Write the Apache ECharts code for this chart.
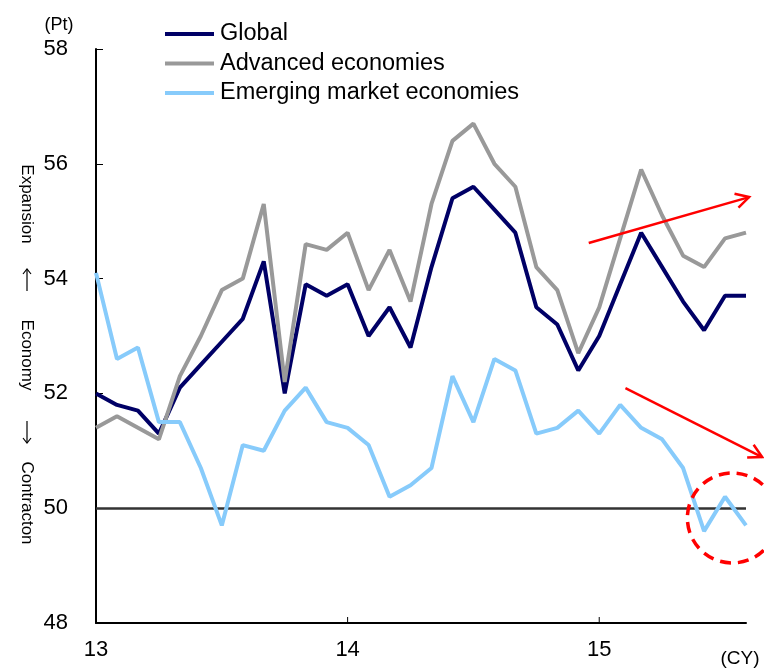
<!DOCTYPE html>
<html>
<head>
<meta charset="utf-8">
<script src="https://cdn.jsdelivr.net/npm/echarts@6/dist/echarts.min.js"></script>
<style>
  html, body { margin: 0; padding: 0; background: #fff; }
  #chart { width: 764px; height: 670px; }
</style>
</head>
<body>
<div id="chart"></div>
<script>
// Monthly PMI readings, Jan 2013 - Aug 2015
const months = [
  '2013-01','2013-02','2013-03','2013-04','2013-05','2013-06','2013-07','2013-08','2013-09','2013-10','2013-11','2013-12',
  '2014-01','2014-02','2014-03','2014-04','2014-05','2014-06','2014-07','2014-08','2014-09','2014-10','2014-11','2014-12',
  '2015-01','2015-02','2015-03','2015-04','2015-05','2015-06','2015-07','2015-08'
];
const yearLabels = { '2013-01': '13', '2014-01': '14', '2015-01': '15' };

const globalPmi = [
  52.0, 51.8, 51.7, 51.3, 52.1, 52.5, 52.9, 53.3, 54.3, 52.0, 53.9, 53.7,
  53.9, 53.0, 53.5, 52.8, 54.2, 55.4, 55.6, 55.2, 54.8, 53.5, 53.2, 52.4,
  53.0, 53.9, 54.8, 54.2, 53.6, 53.1, 53.7, 53.7
];
const advancedPmi = [
  51.4, 51.6, 51.4, 51.2, 52.3, 53.0, 53.8, 54.0, 55.3, 52.2, 54.6, 54.5,
  54.8, 53.8, 54.5, 53.6, 55.3, 56.4, 56.7, 56.0, 55.6, 54.2, 53.8, 52.7,
  53.5, 54.7, 55.9, 55.1, 54.4, 54.2, 54.7, 54.8
];
const emergingPmi = [
  54.1, 52.6, 52.8, 51.5, 51.5, 50.7, 49.7, 51.1, 51.0, 51.7, 52.1, 51.5,
  51.4, 51.1, 50.2, 50.4, 50.7, 52.3, 51.5, 52.6, 52.4, 51.3, 51.4, 51.7,
  51.3, 51.8, 51.4, 51.2, 50.7, 49.6, 50.2, 49.7
];

const seriesNames = ['Global', 'Advanced economies', 'Emerging market economies'];
const seriesColors = ['#000066', '#999999', '#87cbfb'];
const thresholdLevel = 50;

// Annotation anchors in data space: [month index, PMI]
const upArrow = { from: [23.5, 54.62], to: [31.15, 55.42] };
const downArrow = { from: [25.25, 52.09], to: [31.77, 50.89] };
const ringCenter = [30.35, 49.83];

const FONT = '"Liberation Sans", Arial, sans-serif';
const chart = echarts.init(document.getElementById('chart'));

const lineSeries = [globalPmi, advancedPmi, emergingPmi].map((vals, i) => ({
  name: seriesNames[i],
  type: 'line',
  data: vals,
  symbol: 'none',
  smooth: false,
  lineStyle: { width: 4, color: seriesColors[i] },
  itemStyle: { color: seriesColors[i] },
  z: 3
}));
lineSeries[0].markLine = {
  silent: true,
  symbol: 'none',
  label: { show: false },
  lineStyle: { color: '#333333', width: 2.5, type: 'solid' },
  data: [{ yAxis: thresholdLevel }],
  z: 1
};

chart.setOption({
  animation: false,
  grid: { left: 96, right: 18, top: 49, bottom: 47 },
  legend: {
    orient: 'vertical',
    left: 160,
    top: 22,
    padding: [0, 5],
    itemWidth: 49,
    itemHeight: 4,
    itemGap: 5.5,
    icon: 'rect',
    data: seriesNames,
    textStyle: { fontFamily: FONT, fontSize: 23.5, color: '#000', lineHeight: 24, padding: [0, 0, 0, 1] },
    selectedMode: false
  },
  xAxis: {
    type: 'category',
    data: months,
    boundaryGap: false,
    axisLine: { lineStyle: { color: '#000', width: 2 } },
    axisTick: { show: false },
    axisLabel: { interval: (idx, v) => yearLabels[v] !== undefined,
      formatter: v => yearLabels[v] || '',
      fontFamily: FONT, fontSize: 22, color: '#000', margin: 16 },
    splitLine: { show: false }
  },
  yAxis: {
    type: 'value',
    min: 48, max: 58, interval: 2,
    axisLine: { show: true, lineStyle: { color: '#000', width: 2 } },
    axisTick: { show: true, inside: true, length: 7, lineStyle: { color: '#000', width: 1 } },
    axisLabel: { fontFamily: FONT, fontSize: 22, color: '#000', margin: 28 },
    splitLine: { show: false }
  },
  series: lineSeries
});

// Overlay texts and annotations placed through the chart's own coordinate mapping
function px(pt) {
  const a = chart.convertToPixel({ gridIndex: 0 }, [0, 48]);
  const b = chart.convertToPixel({ gridIndex: 0 }, [months.length - 1, 58]);
  return [a[0] + (b[0] - a[0]) * pt[0] / (months.length - 1),
          a[1] + (b[1] - a[1]) * (pt[1] - 48) / 10];
}
function arrow(from, to) {
  const p0 = px(from), p1 = px(to);
  const ang = Math.atan2(p1[1] - p0[1], p1[0] - p0[0]);
  const L = 15, spread = 0.5;
  const h1 = [p1[0] - L * Math.cos(ang - spread), p1[1] - L * Math.sin(ang - spread)];
  const h2 = [p1[0] - L * Math.cos(ang + spread), p1[1] - L * Math.sin(ang + spread)];
  const style = { stroke: '#ff0000', lineWidth: 2.5, fill: null };
  return [
    { type: 'polyline', shape: { points: [p0, p1] }, style, z: 10 },
    { type: 'polyline', shape: { points: [h1, p1, h2] }, style, z: 10 }
  ];
}
// Year ticks on the time axis, pointing into the plot
const yearTicks = months
  .map((m, i) => (yearLabels[m] !== undefined && i > 0 ? i : -1))
  .filter(i => i >= 0)
  .map(i => {
    const p = px([i, 48]);
    return { type: 'line', shape: { x1: p[0], y1: p[1], x2: p[0], y2: p[1] - 6 },
      style: { stroke: '#000', lineWidth: 1 } };
  });
// Thin vertical arrow for the side caption
function sideArrow(y, up) {
  const x = 27, half = 11, tip = up ? y - half : y + half, tail = up ? y + half : y - half;
  const d = up ? 5 : -5;
  const style = { stroke: '#000', lineWidth: 1.2, fill: null };
  return [
    { type: 'polyline', shape: { points: [[x, tail], [x, tip]] }, style },
    { type: 'polyline', shape: { points: [[x - 4, tip + d], [x, tip], [x + 4, tip + d]] }, style }
  ];
}
const rc = px(ringCenter);
const sideText = (text, y) => ({
  type: 'text', x: 27, y: y, rotation: -Math.PI / 2,
  style: { text, fontFamily: FONT, fontSize: 17, fill: '#000', align: 'center', verticalAlign: 'middle' }
});

chart.setOption({
  graphic: [
    { type: 'text', x: 59, y: 25, style: { text: '(Pt)', fontFamily: FONT, fontSize: 18, fill: '#000', align: 'center', verticalAlign: 'middle' } },
    { type: 'text', x: 740, y: 659, style: { text: '(CY)', fontFamily: FONT, fontSize: 19, fill: '#000', align: 'center', verticalAlign: 'middle' } },
    ...yearTicks,
    sideText('Expansion', 204),
    ...sideArrow(280, true),
    sideText('Economy', 355),
    ...sideArrow(432, false),
    sideText('Contracton', 503),
    ...arrow(upArrow.from, upArrow.to),
    ...arrow(downArrow.from, downArrow.to),
    { type: 'circle', shape: { cx: rc[0], cy: rc[1], r: 45 },
      style: { stroke: '#ff0000', lineWidth: 3.5, fill: null, lineDash: [11, 7] }, z: 10 }
  ]
});
</script>
</body>
</html>
